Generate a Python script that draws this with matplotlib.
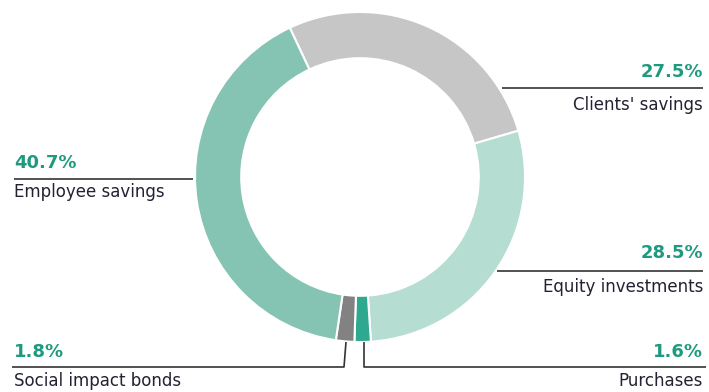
import matplotlib.pyplot as plt
from matplotlib import font_manager

# slices, clockwise from the upper left
labels = ["Clients' savings", "Equity investments", "Purchases",
          "Social impact bonds", "Employee savings"]
shares = [27.5, 28.5, 1.6, 1.8, 40.7]
colors = ["#c6c6c6", "#b5ddd2", "#2ea88f", "#828282", "#85c4b3"]

W, H = 709, 392

names = {f.name for f in font_manager.fontManager.ttflist}
fam = "Liberation Sans Narrow" if "Liberation Sans Narrow" in names else "DejaVu Sans"

fig = plt.figure(figsize=(W / 100, H / 100), dpi=100)
ax = fig.add_axes([0, 0, 1, 1])
ax.set_xlim(0, W)
ax.set_ylim(0, H)
ax.set_aspect("equal")
ax.axis("off")

cx, cy, R = 360, H - 177, 165
ax.pie(shares, colors=colors, startangle=115.2, counterclock=False,
       center=(cx, cy), radius=R, frame=True,
       wedgeprops=dict(width=R * 0.28, edgecolor="white", linewidth=1.5))
ax.set_xlim(0, W)
ax.set_ylim(0, H)
ax.axis("off")

def y(p):
    return H - p

line_kw = dict(color="#333333", lw=1.2, solid_capstyle="butt")
# leader lines
ax.plot([502, 703], [y(88), y(88)], **line_kw)
ax.plot([14, 193], [y(179), y(179)], **line_kw)
ax.plot([497, 703], [y(271), y(271)], **line_kw)
ax.plot([12, 344, 346], [y(367), y(367), y(342)], **line_kw)
ax.plot([364, 364, 706], [y(342), y(367), y(367)], **line_kw)

pct_kw = dict(color="#1f9a80", fontsize=13, fontweight="bold", family=fam, va="center")
lab_kw = dict(color="#222233", fontsize=12, family=fam, va="center")

# (label index, x, anchor, pct y, label y)
spots = [(0, 703, "right", 72, 105),
         (1, 703, "right", 253, 287),
         (2, 703, "right", 352, 381),
         (3, 14, "left", 352, 381),
         (4, 14, "left", 163, 192)]
for i, x, ha, py, ly in spots:
    ax.text(x, y(py), f"{shares[i]}%", ha=ha, **pct_kw)
    ax.text(x, y(ly), labels[i], ha=ha, **lab_kw)

fig.savefig("out.png", dpi=100)
